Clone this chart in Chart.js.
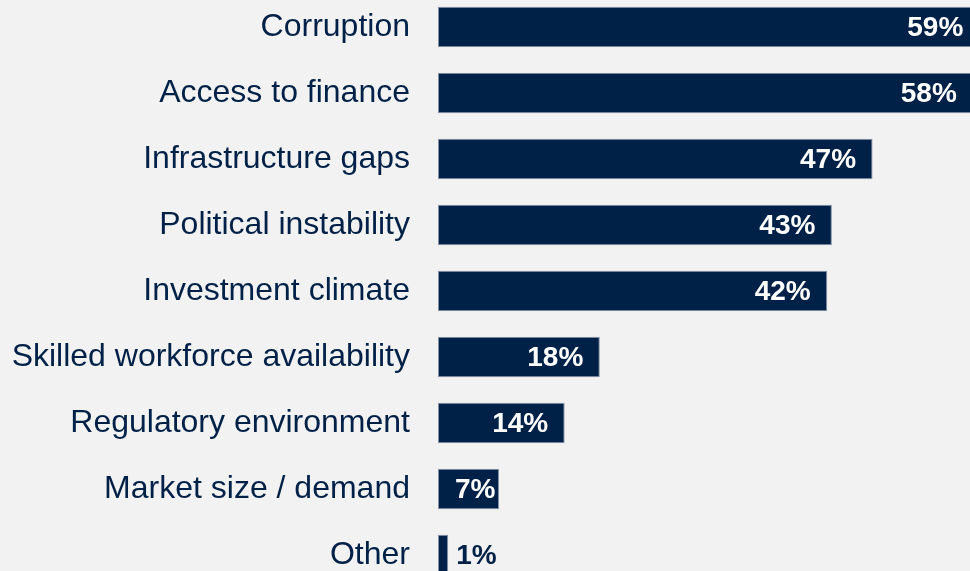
<!DOCTYPE html>
<html><head><meta charset="utf-8">
<script src="https://cdn.jsdelivr.net/npm/chart.js@4/dist/chart.umd.min.js"></script>
<style>
html,body{margin:0;padding:0;background:#f2f2f2;overflow:hidden;width:970px;height:571px;position:relative;}
#c{position:absolute;left:0;top:-6px;display:block;}
</style></head><body>
<canvas id="c" width="1002" height="594" style="width:1002px;height:594px;"></canvas>
<script>
const categories = ['Corruption','Access to finance','Infrastructure gaps','Political instability','Investment climate','Skilled workforce availability','Regulatory environment','Market size / demand','Other'];
const values = [58.6, 57.9, 47.0, 42.6, 42.1, 17.5, 13.7, 6.6, 1.1];
const valueLabels = ['59%','58%','47%','43%','42%','18%','14%','7%','1%'];

const navy = '#002147';
const labelFont = '"Liberation Sans", Arial, sans-serif';

const valueLabelPlugin = {
  id: 'valueLabels',
  afterDatasetsDraw(chart) {
    const ctx = chart.ctx;
    const meta = chart.getDatasetMeta(0);
    ctx.save();
    ctx.font = 'bold 28px ' + labelFont;
    ctx.textBaseline = 'middle';
    meta.data.forEach((bar, i) => {
      const txt = valueLabels[i];
      const w = ctx.measureText(txt).width;
      const end = bar.x, start = bar.base, y = bar.y + 1.5;
      if (end - start > w + 15) {
        let right = end - 16.5;
        if (right - w < start + 17) right = start + 17 + w;
        ctx.fillStyle = '#ffffff';
        ctx.textAlign = 'right';
        ctx.fillText(txt, right, y);
      } else {
        ctx.fillStyle = navy;
        ctx.textAlign = 'left';
        ctx.fillText(txt, end + 8, y);
      }
    });
    ctx.restore();
  }
};

new Chart(document.getElementById('c'), {
  type: 'bar',
  data: {
    labels: categories,
    datasets: [{
      data: values,
      backgroundColor: navy,
      borderColor: '#8593a6',
      borderWidth: 1,
      borderSkipped: false,
      categoryPercentage: 1,
      barPercentage: 0.617
    }]
  },
  options: {
    indexAxis: 'y',
    responsive: false,
    maintainAspectRatio: false,
    animation: false,
    layout: { padding: 0 },
    plugins: { legend: { display: false }, tooltip: { enabled: false } },
    scales: {
      x: { display: false, min: 0, max: 61 },
      y: {
        afterFit(scale) {
          scale.width = 438;
          scale.paddingTop = 0;
          scale.paddingBottom = 0;
        },
        grid: { display: false, drawTicks: false },
        border: { display: false },
        ticks: {
          padding: 28,
          color: navy,
          font: { family: labelFont, size: 32 }
        }
      }
    }
  },
  plugins: [valueLabelPlugin]
});
</script>
</body></html>
